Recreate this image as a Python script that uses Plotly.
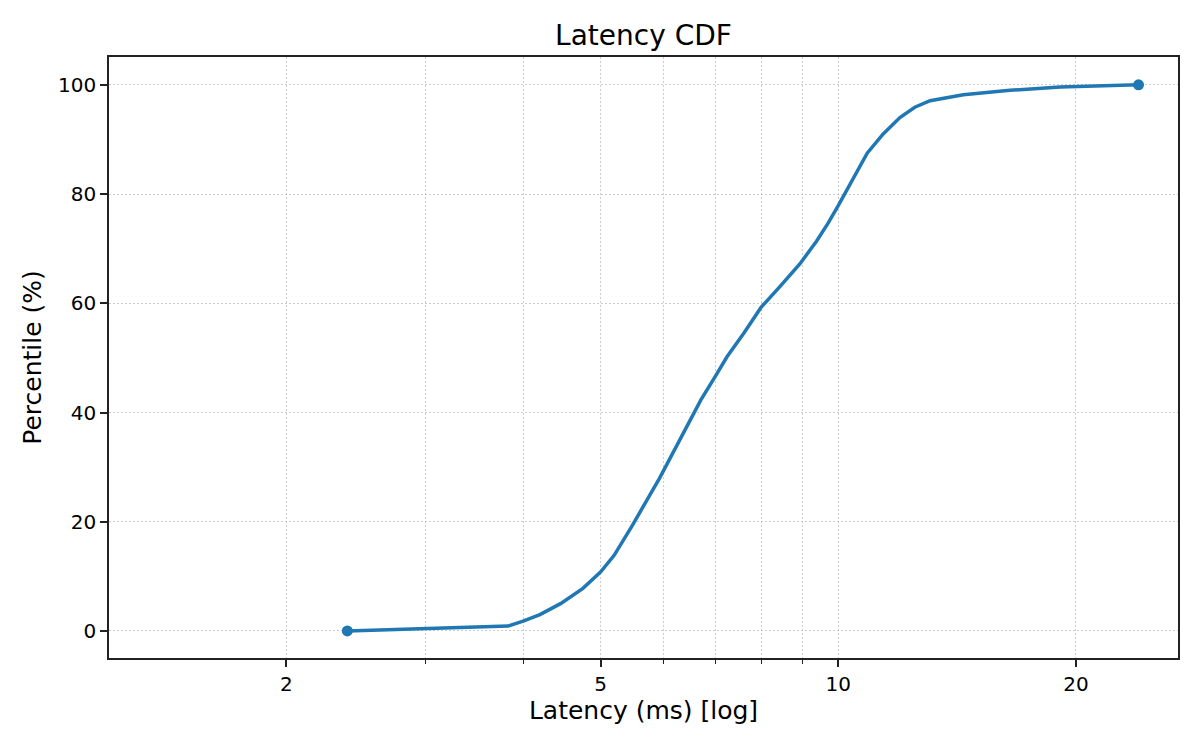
import plotly.graph_objects as go

latency_ms = [2.39, 3.82, 3.99, 4.19, 4.45, 4.75, 5.0, 5.2, 5.48, 5.7, 5.94, 6.3, 6.7,
              7.0, 7.23, 7.6, 7.98, 8.43, 8.94, 9.39, 9.7, 10.0, 10.45, 10.88, 11.4, 11.97,
              12.5, 13.07, 14.4, 16.5, 19.1, 24.0]
percentile = [0, 0.9, 1.8, 3, 5, 7.8, 10.8, 13.8, 19.2, 23.6, 28, 35, 42.3,
              46.8, 50.2, 54.6, 59.2, 63.0, 67.2, 71.4, 74.6, 77.9, 82.8, 87.5, 91, 94,
              95.9, 97.1, 98.2, 99.0, 99.6, 100]

major_x = [2, 5, 10, 20]
minor_x = [3, 4, 6, 7, 8, 9, 30]
y_ticks = [0, 20, 40, 60, 80, 100]

color = "#1f77b4"
fig = go.Figure()
fig.add_trace(go.Scatter(x=latency_ms, y=percentile, mode="lines",
                         line=dict(color=color, width=3.5),
                         showlegend=False, hoverinfo="skip"))
fig.add_trace(go.Scatter(x=[latency_ms[0], latency_ms[-1]], y=[percentile[0], percentile[-1]],
                         mode="markers", marker=dict(color=color, size=11), showlegend=False))

axis_col = "#222222"
grid_col = "#cccccc"
gdash = "1.5px,2.5px"
fig.update_layout(
    width=1200, height=750,
    margin=dict(l=101, r=30, t=49, b=100),
    paper_bgcolor="white", plot_bgcolor="white",
    font=dict(family="DejaVu Sans", color="black", size=20),
    title=dict(text="Latency CDF", x=0.5, xref="paper", xanchor="center",
               y=1 - 27 / 750, yref="container", yanchor="middle",
               font=dict(size=28)),
)
fig.update_xaxes(
    type="log", range=[0.0766, 1.4302],
    tickmode="array", tickvals=major_x, ticktext=[str(v) for v in major_x],
    ticks="outside", ticklen=7, tickwidth=1.7, tickcolor=axis_col,
    showline=True, linecolor=axis_col, linewidth=1.7, mirror=True,
    showgrid=True, gridcolor=grid_col, griddash=gdash, gridwidth=1.2,
    minor=dict(tickmode="array", tickvals=minor_x, ticks="outside", ticklen=4, tickwidth=1.2,
               tickcolor=axis_col, showgrid=True, gridcolor=grid_col, griddash=gdash,
               gridwidth=1.2),
    title=dict(text="Latency (ms) [log]", font=dict(size=25), standoff=6),
    zeroline=False,
)
fig.update_yaxes(
    range=[-4.95, 105.1],
    tickmode="array", tickvals=y_ticks,
    ticks="outside", ticklen=7, tickwidth=1.7, tickcolor=axis_col,
    showline=True, linecolor=axis_col, linewidth=1.7, mirror=True,
    showgrid=True, gridcolor=grid_col, griddash=gdash, gridwidth=1.2,
    title=dict(text="Percentile (%)", font=dict(size=25), standoff=9),
    zeroline=False,
)
fig.write_html("out.html")
